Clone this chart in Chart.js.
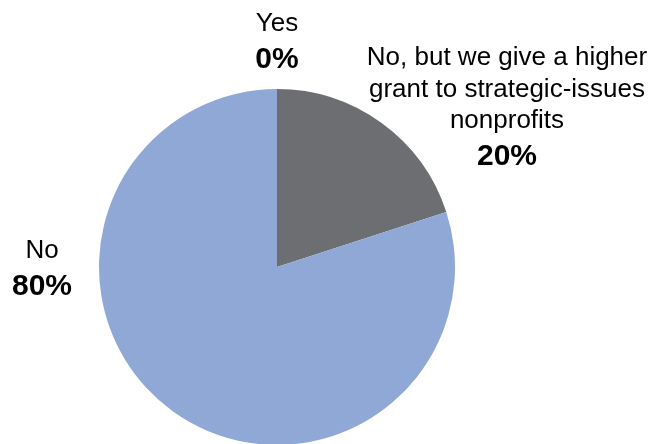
<!DOCTYPE html>
<html lang="en">
<head>
    <meta charset="UTF-8">
    <title>Higher grant for strategic-issues nonprofits</title>
    <script src="https://cdn.jsdelivr.net/npm/chart.js"></script>
    <style>
        html, body { margin: 0; padding: 0; background: #fff; overflow: hidden; }
        #wrap { width: 657px; height: 446px; position: relative; }
    </style>
</head>
<body>
    <div id="wrap"><canvas id="pieChart"></canvas></div>
    <script>
    // Survey answers and their shares (percent)
    const labels = ['Yes', 'No, but we give a higher grant to strategic-issues nonprofits', 'No'];
    const labelLines = [['Yes'], ['No, but we give a higher', 'grant to strategic-issues', 'nonprofits'], ['No']];
    const values = [0, 20, 80];
    const colors = ['#8fa8d6', '#6d6e71', '#8fa8d6'];

    // Text anchors relative to the pie centre (first line baseline), in px
    const labelSpots = [
        { dx: 0, dy: -236 },
        { dx: 230, dy: -202 },
        { dx: -235, dy: -9 }
    ];

    const outsideLabels = {
        id: 'outsideLabels',
        afterDraw(chart) {
            const ctx = chart.ctx;
            const arc = chart.getDatasetMeta(0).data[0];
            const cx = arc.x, cy = arc.y;
            ctx.save();
            ctx.fillStyle = '#000';
            ctx.textAlign = 'center';
            ctx.textBaseline = 'alphabetic';
            labelLines.forEach((lines, i) => {
                const x = cx + labelSpots[i].dx;
                let y = cy + labelSpots[i].dy;
                ctx.font = '26px "Liberation Sans", Arial, sans-serif';
                lines.forEach((line, j) => {
                    if (j > 0) y += 31.5;
                    ctx.fillText(line, x, y);
                });
                ctx.font = 'bold 30px "Liberation Sans", Arial, sans-serif';
                ctx.fillText(values[i] + '%', x, y + 37);
            });
            ctx.restore();
        }
    };

    new Chart(document.getElementById('pieChart'), {
        type: 'pie',
        data: {
            labels: labels,
            datasets: [{
                data: values,
                backgroundColor: colors,
                borderWidth: 0
            }]
        },
        options: {
            responsive: true,
            maintainAspectRatio: false,
            animation: false,
            layout: { padding: { left: 99, right: 202, top: 89, bottom: 1 } },
            plugins: {
                legend: { display: false },
                tooltip: { enabled: false }
            }
        },
        plugins: [outsideLabels]
    });
    </script>
</body>
</html>
